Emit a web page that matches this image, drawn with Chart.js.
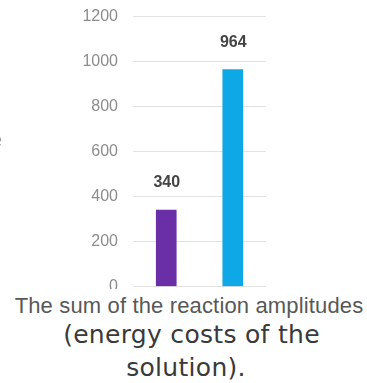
<!DOCTYPE html>
<html>
<head>
<meta charset="utf-8">
<script src="https://cdn.jsdelivr.net/npm/chart.js@4/dist/chart.umd.min.js"></script>
<style>
  html, body { margin: 0; padding: 0; background: #fff; }
  #wrap { position: relative; width: 367px; height: 383px; overflow: hidden; background: #fff; }
  #c { position: absolute; left: 0; top: -8px; }
  #caption { position: absolute; left: 0; top: 289px; width: 367px; height: 94px; background: #fff; z-index: 2; }
  .l1 { position: absolute; top: 6.4px; left: 0; width: 378px; text-align: center; white-space: nowrap;
        font: 22px/22px "Liberation Sans", Arial, sans-serif; color: #585858; letter-spacing: 0.15px; }
  .l2 { position: absolute; left: 0; width: 383px; text-align: center; white-space: nowrap;
        font: 25px/25px "DejaVu Sans", Verdana, sans-serif; color: #3a3a3a; letter-spacing: 0.3px; }
  .edge { position: absolute; left: -9px; top: 130px; font: 20px/20px "Liberation Sans", Arial, sans-serif; color: #999; }
</style>
</head>
<body>
<div id="wrap">
  <canvas id="c" width="367" height="319"></canvas>
  <div class="edge">e</div>
  <div id="caption">
    <div class="l1">The sum of the reaction amplitudes</div>
    <div class="l2" style="top:33px">(energy costs of the</div>
    <div class="l2" style="top:66px; width:372px">solution).</div>
  </div>
</div>
<script>
// Two bars: total reaction amplitudes for each solution
const categories = ['A', 'B'];
const values = [340, 964];
const barColors = ['#6a2ea6', '#0fa8e6'];
const yTicks = [0, 200, 400, 600, 800, 1000, 1200];

// Writes each bar's value above it
const valueLabels = {
  id: 'valueLabels',
  afterDatasetsDraw(chart) {
    const ctx = chart.ctx;
    const meta = chart.getDatasetMeta(0);
    ctx.save();
    ctx.font = 'bold 16px "Liberation Sans", Arial, sans-serif';
    ctx.fillStyle = '#444';
    ctx.textAlign = 'center';
    ctx.textBaseline = 'alphabetic';
    meta.data.forEach((bar, i) => {
      ctx.fillText(String(values[i]), bar.x + 0.5, bar.y - 23);
    });
    ctx.restore();
  }
};

new Chart(document.getElementById('c'), {
  type: 'bar',
  data: {
    labels: categories,
    datasets: [{
      data: values,
      backgroundColor: barColors,
      borderWidth: 0,
      barThickness: 20
    }]
  },
  options: {
    responsive: false,
    animation: false,
    devicePixelRatio: 1,
    layout: { padding: { top: 7, right: 101, bottom: 3, left: 0 } },
    plugins: { legend: { display: false }, tooltip: { enabled: false } },
    scales: {
      x: { display: false },
      y: {
        min: yTicks[0],
        max: yTicks[yTicks.length - 1],
        afterBuildTicks(scale) { scale.ticks = yTicks.map(v => ({ value: v })); },
        afterFit(scale) { scale.width = 133; },
        ticks: {
          padding: 15,
          color: '#8c8c8c',
          font: { family: '"Liberation Sans", Arial, sans-serif', size: 16 },
          callback: (v) => String(v)
        },
        grid: { color: '#e2e2e2', drawTicks: false },
        border: { display: false }
      }
    }
  },
  plugins: [valueLabels]
});
</script>
</body>
</html>
